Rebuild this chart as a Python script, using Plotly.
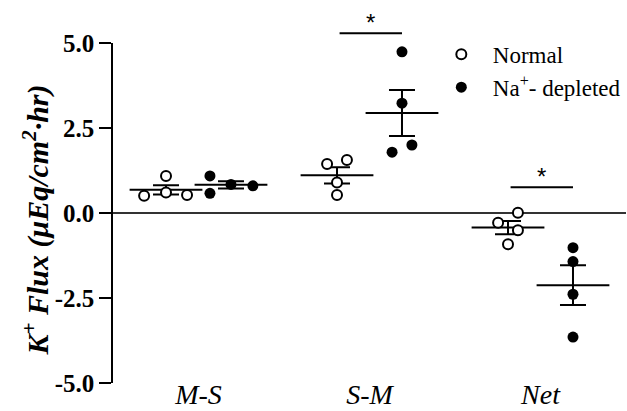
import numpy as np
import plotly.graph_objects as go

# ---- data ----
categories = ["M-S", "S-M", "Net"]
normal_values = [
    [0.51, 1.09, 0.60, 0.53],
    [1.44, 1.56, 0.90, 0.53],
    [0.01, -0.29, -0.51, -0.92],
]
depleted_values = [
    [1.09, 0.58, 0.84, 0.80],
    [4.74, 3.23, 1.79, 2.00],
    [-1.02, -1.43, -2.39, -3.65],
]
# horizontal scatter of the individual points (category units)
normal_jitter = [
    [-0.128, 0.0, 0.0, 0.123],
    [-0.058, 0.058, 0.0, 0.0],
    [0.058, -0.058, 0.058, 0.0],
]
depleted_jitter = [
    [-0.123, -0.123, 0.0, 0.128],
    [0.0, 0.0, -0.058, 0.058],
    [0.0, 0.0, 0.0, 0.0],
]
y_tick_vals = [5.0, 2.5, 0.0, -2.5, -5.0]
y_tick_text = ["5.0", "2.5", "0.0", "-2.5", "-5.0"]
sig_categories = [1, 2]      # S-M, Net
sig_bar_values = [5.29, 0.76]
series_names = ["Normal", "Na<sup>+</sup>- depleted"]
y_title = "K<sup>+</sup> Flux (μEq/cm<sup>2</sup>·hr)"

GROUP_OFFSET = 0.19
Y_MIN, Y_MAX = -5.0, 5.0
FONT = "Liberation Serif"
NB = "\u00a0\u00a0"

fig = go.Figure()

def add_group(values, jitter, offset, name, filled, legendgroup):
    xs, ys = [], []
    mx, my, sem = [], [], []
    for ci, (vals, jit) in enumerate(zip(values, jitter)):
        center = ci + offset
        for v, j in zip(vals, jit):
            xs.append(center + j)
            ys.append(v)
        arr = np.array(vals)
        mx.append(center)
        my.append(arr.mean())
        sem.append(arr.std(ddof=1) / np.sqrt(len(arr)))
    # mean line + SEM error bars
    fig.add_trace(go.Scatter(
        x=mx, y=my, mode="markers", showlegend=False, legendgroup=legendgroup,
        marker=dict(symbol="line-ew", size=52, color="black",
                    line=dict(color="black", width=2)),
        error_y=dict(type="data", array=sem, visible=True, color="black",
                     thickness=2, width=13),
        hoverinfo="skip",
    ))
    fig.add_trace(go.Scatter(
        x=xs, y=ys, mode="markers", name=NB + name, legendgroup=legendgroup,
        marker=dict(symbol="circle", size=11 if filled else 10,
                    color="black" if filled else "white",
                    line=dict(color="black", width=0 if filled else 2)),
        cliponaxis=False,
    ))

add_group(normal_values, normal_jitter, -GROUP_OFFSET, series_names[0], False, "g1")
add_group(depleted_values, depleted_jitter, GROUP_OFFSET, series_names[1], True, "g2")

def to_paper(v):
    return (v - Y_MIN) / (Y_MAX - Y_MIN)

for c, v in zip(sig_categories, sig_bar_values):
    fig.add_shape(type="line", xref="x", yref="paper",
                  x0=c - 0.175, x1=c + 0.19, y0=to_paper(v), y1=to_paper(v),
                  line=dict(color="black", width=2))
    fig.add_annotation(x=c + 0.005, y=to_paper(v), xref="x", yref="paper",
                       text="*", showarrow=False, yanchor="bottom", yshift=-5,
                       font=dict(family="Arial", size=24, color="black"))

fig.add_annotation(x=-0.15, y=0.478, xref="paper", yref="paper",
                   text=y_title, textangle=-90, showarrow=False,
                   xanchor="center", yanchor="middle",
                   font=dict(family=FONT, size=30, weight="bold",
                             style="italic", color="black"))

fig.update_layout(
    width=627, height=411,
    margin=dict(l=113, r=1, t=43, b=28, autoexpand=False),
    paper_bgcolor="white", plot_bgcolor="white",
    font=dict(family=FONT, color="black"),
    legend=dict(x=0.64, y=1.03, xanchor="left", yanchor="top",
                font=dict(family=FONT, size=23, color="black"),
                traceorder="grouped", tracegroupgap=0,
                bgcolor="rgba(0,0,0,0)"),
    xaxis=dict(range=[-0.5, 2.5], tickvals=[0, 1, 2], ticktext=categories,
               showline=False, showgrid=False, zeroline=False, ticks="",
               automargin=False, ticklabelstandoff=-8,
               tickfont=dict(family=FONT, size=28, style="italic")),
    yaxis=dict(range=[Y_MIN, Y_MAX], tickvals=y_tick_vals, ticktext=y_tick_text,
               showline=True, linecolor="black", linewidth=1.5,
               ticks="outside", ticklen=12, tickwidth=1.5, tickcolor="black",
               showgrid=False, zeroline=True, zerolinecolor="#333",
               zerolinewidth=1.5, automargin=False,
               tickfont=dict(family=FONT, size=25, weight="bold")),
)

fig.write_html("out.html",
               config={"displayModeBar": False},
               post_script="document.body.style.margin='0';"
                           "document.body.style.overflow='hidden';")
